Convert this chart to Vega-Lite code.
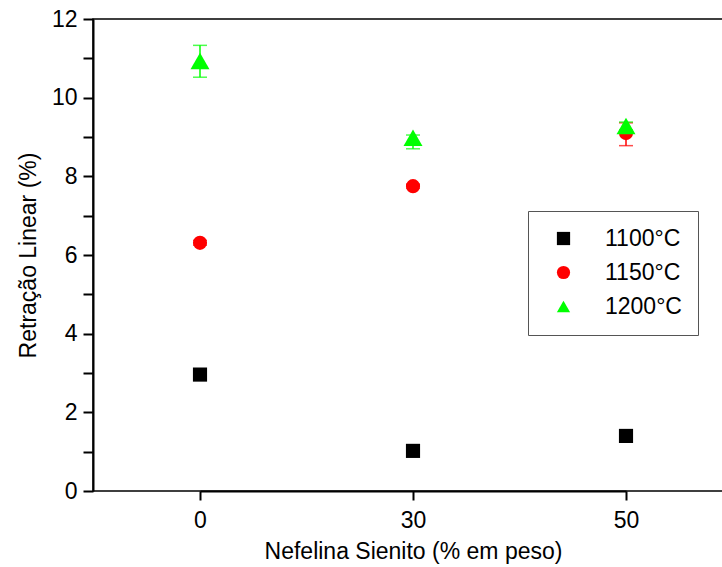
{
  "$schema": "https://vega.github.io/schema/vega-lite/v6.json",
  "autosize": "none",
  "width": 630,
  "height": 472,
  "padding": {"left": 93, "top": 19, "right": 0, "bottom": 76},
  "background": "white",
  "config": {
    "font": "Liberation Sans",
    "view": {"stroke": "black", "strokeWidth": 1.5},
    "axis": {"grid": false, "domainColor": "black", "domainWidth": 2, "tickColor": "black", "tickWidth": 2, "labelColor": "black", "titleColor": "black", "labelFontSize": 23, "titleFontSize": 23, "titleFontWeight": "normal", "labelFont": "Liberation Sans", "titleFont": "Liberation Sans"}
  },
  "data": {
    "values": [
      {"temp": "1100°C", "ns": "0", "r": 2.96, "lo": 2.96, "hi": 2.96},
      {"temp": "1100°C", "ns": "30", "r": 1.02, "lo": 1.02, "hi": 1.02},
      {"temp": "1100°C", "ns": "50", "r": 1.40, "lo": 1.40, "hi": 1.40},
      {"temp": "1150°C", "ns": "0", "r": 6.31, "lo": 6.25, "hi": 6.37},
      {"temp": "1150°C", "ns": "30", "r": 7.75, "lo": 7.70, "hi": 7.80},
      {"temp": "1150°C", "ns": "50", "r": 9.10, "lo": 8.78, "hi": 9.36},
      {"temp": "1200°C", "ns": "0", "r": 10.93, "lo": 10.52, "hi": 11.33},
      {"temp": "1200°C", "ns": "30", "r": 8.98, "lo": 8.70, "hi": 9.05},
      {"temp": "1200°C", "ns": "50", "r": 9.28, "lo": 9.18, "hi": 9.38}
    ]
  },
  "encoding": {
    "x": {
      "field": "ns", "type": "ordinal", "sort": ["0", "30", "50"],
      "scale": {"type": "point", "padding": 0, "range": [107, 533]},
      "axis": {"title": "Nefelina Sienito (% em peso)", "labelAngle": 0, "tickSize": 9, "labelPadding": 9, "titlePadding": 8}
    },
    "y": {
      "field": "r", "type": "quantitative",
      "scale": {"domain": [0, 12], "nice": false, "zero": true},
      "axis": {
        "title": "Retração Linear (%)", "values": [0,1,2,3,4,5,6,7,8,9,10,11,12],
        "labelExpr": "datum.value % 2 === 0 ? datum.label : ''",
        "tickSize": 10, "labelPadding": 6, "titlePadding": 11,
        "encode": {"ticks": {"update": {"x2": {"signal": "datum.value % 2 === 1 ? -5 : -10"}}}}
      }
    },
    "color": {
      "field": "temp", "type": "nominal",
      "scale": {"domain": ["1100°C", "1150°C", "1200°C"], "range": ["#000000", "#ff0000", "#00ff00"]},
      "legend": {
        "title": null, "orient": "none", "legendX": 435, "legendY": 192,
        "strokeColor": "#555555", "padding": 16, "fillColor": "white",
        "labelFontSize": 23, "labelFont": "Liberation Sans", "labelColor": "black",
        "symbolSize": 175, "symbolStrokeWidth": 0, "symbolOpacity": 1, "symbolOffset": 8, "labelOffset": 30, "rowPadding": 10
      }
    }
  },
  "layer": [
    {
      "mark": {"type": "rule", "strokeWidth": 1.5},
      "encoding": {"y": {"field": "lo", "type": "quantitative"}, "y2": {"field": "hi"}}
    },
    {
      "mark": {"type": "tick", "thickness": 1.5, "size": 14, "orient": "horizontal"},
      "encoding": {"y": {"field": "lo", "type": "quantitative"}}
    },
    {
      "mark": {"type": "tick", "thickness": 1.5, "size": 14, "orient": "horizontal"},
      "encoding": {"y": {"field": "hi", "type": "quantitative"}}
    },
    {
      "mark": {"type": "point", "filled": true, "opacity": 1},
      "encoding": {
        "shape": {
          "field": "temp", "type": "nominal",
          "scale": {"domain": ["1100°C", "1150°C", "1200°C"], "range": ["square", "circle", "triangle-up"]},
          "legend": {
            "title": null, "orient": "none", "legendX": 435, "legendY": 192,
            "strokeColor": "#555555", "padding": 16, "fillColor": "white",
            "labelFontSize": 23, "labelFont": "Liberation Sans", "labelColor": "black",
            "symbolSize": 175, "symbolStrokeWidth": 0, "symbolOpacity": 1, "symbolOffset": 8, "labelOffset": 30, "rowPadding": 10
          }
        },
        "size": {"condition": {"test": "datum.temp === '1200°C'", "value": 360}, "value": 200}
      }
    }
  ]
}
